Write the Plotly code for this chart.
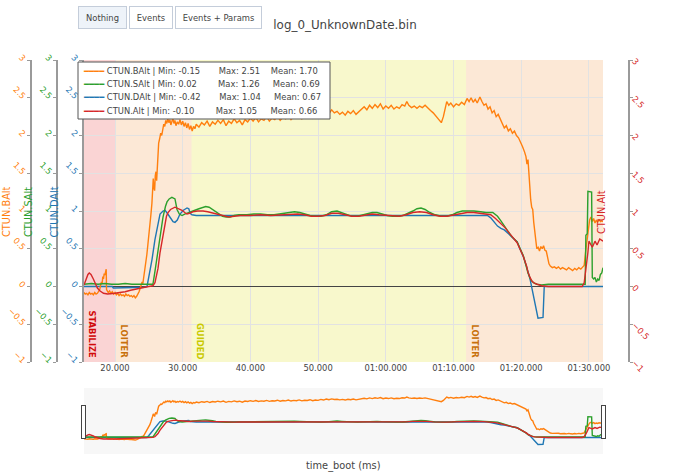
import plotly.graph_objects as go

FONT = "DejaVu Sans"
W, H = 690, 473

# ---------------- data (time_boot in seconds, altitude in m) ----------------
balt_points = [
    (15.42,-0.08),(15.6,-0.10),(15.8,-0.09),(16.0,-0.11),(16.2,-0.08),(16.4,-0.10),(16.6,-0.09),(16.8,-0.11),
    (17.0,-0.08),(17.2,-0.10),(17.4,-0.09),(17.6,-0.06),(17.75,-0.04),(17.9,0.03),(18.0,0.06),(18.1,0.04),
    (18.2,0.13),(18.3,0.10),(18.4,0.17),(18.5,0.15),(18.6,0.21),(18.7,0.23),(18.75,-0.04),(18.85,-0.06),
    (19.0,-0.08),(19.2,-0.06),(19.4,-0.09),(19.6,-0.07),(19.8,-0.10),(20.0,-0.08),(20.2,-0.11),(20.4,-0.09),
    (20.6,-0.12),(20.8,-0.10),(21.0,-0.12),(21.2,-0.11),(21.4,-0.13),(21.6,-0.10),(21.8,-0.12),(22.0,-0.11),
    (22.2,-0.13),(22.4,-0.12),(22.6,-0.14),(22.8,-0.12),(23.0,-0.15),(23.2,-0.13),(23.4,-0.10),(23.55,-0.07),
    (23.7,-0.03),(23.85,0.01),(24.0,0.06),(24.1,0.03),(24.25,0.12),(24.4,0.22),(24.55,0.33),(24.7,0.42),
    (24.85,0.55),(25.0,0.66),(25.15,0.78),(25.3,0.95),(25.45,1.10),(25.55,1.28),(25.65,1.43),(25.75,1.30),
    (25.85,1.27),(25.95,1.47),(26.05,1.52),(26.15,1.40),(26.3,1.72),(26.45,1.90),(26.6,1.96),(26.75,2.03),
    (26.9,2.00),(27.05,2.08),(27.2,2.15),(27.35,2.12),(27.5,2.20),(27.65,2.16),(27.8,2.22),(27.95,2.17),
    (28.1,2.21),(28.25,2.14),(28.4,2.19),(28.55,2.23),(28.7,2.16),(28.85,2.20),(29.0,2.13),(29.2,2.18),
    (29.4,2.15),(29.6,2.21),(29.8,2.14),(30.0,2.19),(30.2,2.12),(30.4,2.17),(30.6,2.10),(30.8,2.16),
    (31.0,2.08),(31.2,2.13),(31.4,2.06),(31.6,2.12),(31.8,2.09),(32.0,2.15),(32.4,2.11),(32.8,2.17),
    (33.2,2.14),(33.6,2.19),(34.0,2.12),(34.4,2.18),(34.8,2.15),(35.2,2.20),(35.6,2.16),(36.0,2.21),
    (36.4,2.13),(36.8,2.19),(37.2,2.16),(37.6,2.22),(38.0,2.17),(38.4,2.20),(38.8,2.14),(39.2,2.21),
    (39.6,2.18),(40.0,2.23),(40.4,2.19),(40.8,2.24),(41.2,2.18),(41.6,2.22),(42.0,2.20),(42.4,2.25),
    (42.8,2.19),(43.2,2.23),(43.6,2.21),(44.0,2.26),(44.4,2.20),(44.8,2.24),(45.2,2.22),(45.6,2.27),
    (46.0,2.21),(46.4,2.25),(46.8,2.23),(47.2,2.28),(47.6,2.22),(48.0,2.26),(48.4,2.24),(48.8,2.29),
    (49.2,2.23),(49.6,2.27),(50.0,2.25),(50.4,2.31),(50.8,2.27),(51.2,2.33),(51.6,2.29),(52.0,2.34),
    (52.4,2.30),(52.8,2.32),(53.2,2.28),(53.6,2.31),(54.0,2.27),(54.4,2.32),(54.8,2.29),(55.2,2.33),
    (55.6,2.28),(56.0,2.31),(56.4,2.35),(56.8,2.38),(57.2,2.34),(57.6,2.40),(58.0,2.36),(58.4,2.41),
    (58.8,2.37),(59.2,2.42),(59.6,2.35),(60.0,2.39),(60.4,2.36),(60.8,2.40),(61.2,2.35),(61.6,2.38),
    (62.0,2.36),(62.4,2.41),(62.8,2.39),(63.1,2.45),(63.4,2.40),(63.8,2.37),(64.2,2.39),(64.6,2.36),
    (65.0,2.39),(65.4,2.37),(65.8,2.40),(66.2,2.36),(66.6,2.33),(67.0,2.30),(67.4,2.26),(67.8,2.22),
    (68.2,2.17),(68.5,2.25),(68.8,2.36),(69.0,2.45),(69.3,2.40),(69.6,2.43),(70.0,2.38),(70.4,2.42),
    (70.8,2.40),(71.2,2.44),(71.6,2.41),(72.0,2.49),(72.3,2.45),(72.6,2.50),(72.9,2.44),(73.2,2.48),
    (73.5,2.43),(73.9,2.51),(74.2,2.45),(74.5,2.40),(74.8,2.42),(75.1,2.35),(75.4,2.38),(75.7,2.30),
    (76.0,2.33),(76.3,2.25),(76.6,2.28),(76.9,2.22),(77.2,2.15),(77.5,2.10),(77.8,2.13),(78.1,2.06),
    (78.4,2.09),(78.7,2.03),(79.0,2.06),(79.3,2.00),(79.6,1.97),(79.9,1.92),(80.2,1.85),(80.5,1.78),
    (80.7,1.72),(80.85,1.62),(81.0,1.68),(81.1,1.55),(81.25,1.30),(81.4,1.15),(81.55,1.05),(81.7,1.02),
    (81.85,0.85),(82.0,0.72),(82.15,0.60),(82.3,0.50),(82.5,0.52),(82.7,0.47),(82.9,0.53),(83.1,0.50),
    (83.3,0.54),(83.5,0.48),(83.7,0.47),(83.9,0.40),(84.1,0.30),(84.3,0.27),(84.6,0.25),(84.9,0.26),
    (85.2,0.24),(85.5,0.26),(85.8,0.23),(86.1,0.25),(86.4,0.24),(86.7,0.22),(87.0,0.25),(87.3,0.23),
    (87.6,0.21),(87.9,0.24),(88.2,0.22),(88.5,0.25),(88.8,0.23),(89.1,0.26),(89.3,0.28),(89.5,0.45),
    (89.7,0.60),(89.9,0.72),(90.1,0.88),(90.3,0.92),(90.5,0.86),(90.7,0.90),(90.9,0.84),(91.1,0.88),
    (91.3,0.85),(91.5,0.89),(91.7,0.86),(91.9,0.87),(92.08,0.86),
]

salt_points = [
    (15.42,0.03),(16.5,0.04),(17.5,0.03),(18.5,0.04),(19.5,0.03),(20.5,0.03),(21.5,0.04),(22.5,0.03),
    (23.5,0.03),(24.5,0.03),(25.6,0.03),(25.9,0.20),(26.35,0.50),(26.7,0.72),(27.09,0.92),(27.45,1.06),
    (27.68,1.12),(28.0,1.16),(28.4,1.18),(28.86,1.16),(29.16,1.02),(29.5,0.96),(29.9,0.94),(30.3,0.96),
    (30.8,0.98),(31.3,1.00),(31.8,1.01),(32.4,1.03),(32.9,1.05),(33.4,1.06),(33.9,1.05),(34.4,1.02),
    (34.9,0.98),(35.4,0.95),(35.9,0.93),(36.4,0.92),(37.0,0.92),(37.6,0.94),(38.3,0.95),(39.5,0.95),
    (40.5,0.96),(41.5,0.96),(42.5,0.95),(43.5,0.95),(44.5,0.96),(45.5,0.98),(46.5,0.99),(47.3,0.98),
    (48.0,0.96),(48.8,0.94),(49.6,0.93),(50.4,0.93),(51.2,0.95),(52.0,0.99),(52.8,1.00),(53.5,0.98),
    (54.3,0.95),(55.0,0.93),(55.8,0.93),(56.6,0.95),(57.3,0.97),(58.0,0.98),(58.7,0.98),(59.4,0.96),
    (60.2,0.94),(61.0,0.93),(61.8,0.93),(62.5,0.94),(63.3,0.97),(64.0,1.00),(64.6,1.03),(65.2,1.04),
    (65.8,1.02),(66.5,0.98),(67.3,0.95),(68.2,0.93),(69.0,0.93),(69.8,0.95),(70.5,0.98),(71.3,1.00),
    (72.0,1.00),(73.0,1.00),(74.0,0.99),(74.8,0.98),(75.8,0.98),(76.5,0.93),(77.0,0.87),(77.5,0.80),
    (78.0,0.73),(78.6,0.66),(79.4,0.59),(79.8,0.50),(80.3,0.41),(80.7,0.28),(81.0,0.18),(81.4,0.09),
    (81.8,0.05),(82.3,0.03),(83.0,0.02),(84.0,0.03),(85.0,0.03),(86.0,0.03),(87.0,0.03),(88.0,0.03),
    (89.0,0.03),(89.45,0.03),(89.55,0.68),(89.75,0.70),(89.85,1.26),(90.4,1.25),(90.5,0.12),(90.7,0.10),
    (90.9,0.12),(91.1,0.06),(91.3,0.10),(91.5,0.08),(91.7,0.16),(91.9,0.18),(92.08,0.25),
]

dalt_points = [
    (15.42,0.0),(19.6,0.0),(19.75,-0.02),(22.0,-0.02),(24.4,-0.01),(24.73,0.0),(25.0,0.12),(25.47,0.36),
    (25.9,0.62),(26.2,0.77),(26.65,0.96),(27.09,1.00),(27.4,1.01),(27.8,0.96),(28.2,0.90),(28.57,0.86),
    (28.86,0.85),(29.2,0.88),(29.6,0.96),(30.1,1.01),(30.64,1.04),(30.9,1.03),(31.1,0.97),(31.37,0.95),
    (32.0,0.94),(35.0,0.94),(40.0,0.95),(45.0,0.94),(50.0,0.94),(55.0,0.95),(60.0,0.94),(65.0,0.95),
    (70.0,0.95),(74.4,0.95),(75.0,0.94),(75.5,0.91),(76.0,0.86),(76.5,0.80),(77.0,0.77),(77.5,0.75),
    (78.0,0.71),(78.7,0.65),(79.4,0.59),(79.8,0.50),(80.3,0.40),(80.8,0.26),(81.3,0.10),(82.48,-0.42),
    (83.22,-0.41),(83.4,0.0),(92.08,0.0),
]

alt_points = [
    (15.42,0.02),(15.7,0.10),(16.0,0.16),(16.2,0.18),(16.45,0.16),(16.8,0.10),(17.1,0.03),(17.4,-0.02),
    (17.8,-0.06),(18.3,-0.09),(18.9,-0.10),(19.5,-0.10),(20.0,-0.09),(20.7,-0.08),(21.5,-0.07),(22.3,-0.05),
    (23.0,-0.04),(23.7,-0.02),(24.4,-0.01),(25.0,0.0),(25.6,0.01),(25.9,0.05),(26.35,0.24),(26.65,0.45),
    (26.94,0.59),(27.2,0.75),(27.39,0.86),(27.6,0.93),(27.83,0.98),(28.2,1.02),(28.86,1.05),(29.3,1.03),
    (29.9,1.01),(30.3,0.98),(30.64,0.96),(31.0,0.97),(31.5,0.99),(32.2,1.00),(33.0,1.00),(33.7,0.99),
    (34.5,0.97),(35.3,0.95),(36.0,0.93),(36.8,0.92),(37.6,0.93),(38.5,0.94),(40.0,0.94),(41.5,0.95),
    (43.0,0.94),(44.5,0.95),(46.0,0.96),(47.0,0.96),(48.0,0.95),(49.0,0.93),(50.0,0.93),(51.0,0.94),
    (52.0,0.97),(53.0,0.97),(54.0,0.95),(55.0,0.93),(56.0,0.93),(57.0,0.95),(58.0,0.96),(59.0,0.95),
    (60.0,0.94),(61.0,0.93),(62.0,0.93),(63.0,0.95),(64.0,0.98),(65.0,0.99),(66.0,0.98),(67.0,0.95),
    (68.0,0.93),(69.0,0.93),(70.0,0.95),(71.0,0.97),(72.0,0.98),(73.0,0.98),(74.4,0.96),(75.5,0.95),
    (76.2,0.90),(76.9,0.84),(77.6,0.78),(78.3,0.70),(79.0,0.63),(79.4,0.58),(79.8,0.50),(80.3,0.40),
    (80.8,0.27),(81.0,0.19),(81.3,0.12),(81.6,0.07),(82.0,0.04),(82.5,0.02),(83.0,0.01),(84.0,0.0),
    (89.0,0.0),(89.3,0.05),(89.6,0.25),(89.85,0.45),(90.0,0.60),(90.3,0.55),(90.5,0.52),(90.9,0.60),
    (91.2,0.55),(91.6,0.63),(92.08,0.60),
]

series_names = ["CTUN.BAlt", "CTUN.SAlt", "CTUN.DAlt", "CTUN.Alt"]
series_colors = ["#ff7f0e", "#2ca02c", "#1f77b4", "#d62728"]
series_points = [balt_points, salt_points, dalt_points, alt_points]
series_axes = ["y2", "y3", "y", "y4"]
stat_min = ["-0.15", "0.02", "-0.42", "-0.10"]
stat_max = ["2.51", "1.26", "1.04", "1.05"]
stat_mean = ["1.70", "0.69", "0.67", "0.66"]

mode_names = ["STABILIZE", "LOITER", "GUIDED", "LOITER"]
mode_start_s = [15.42, 20.0, 31.3, 71.85]
log_end_s = 92.08
mode_fill = {"STABILIZE": "rgba(232,40,40,0.20)", "LOITER": "rgba(236,130,30,0.18)",
             "GUIDED": "rgba(226,226,40,0.24)"}
mode_text = {"STABILIZE": "#d10a0a", "LOITER": "#c8700a", "GUIDED": "#c9c900"}

x_tick_ms = [20000, 30000, 40000, 50000, 60000, 70000, 80000, 90000]
x_tick_labels = ["20.000", "30.000", "40.000", "50.000", "01:00.000", "01:10.000", "01:20.000", "01:30.000"]
y_tick_vals = [-1, -0.5, 0, 0.5, 1, 1.5, 2, 2.5, 3]
x_title = "time_boot (ms)"

buttons = ["Nothing", "Events", "Events + Params"]
title_text = "log_0_UnknownDate.bin"

# ---------------- layout geometry (pixels of the 690x473 page) ----------------
PLOT_L, PLOT_R, PLOT_T, PLOT_B = 84, 603, 60, 362
def px(x):
    return x / W
def dy(y):  # pixel row -> y-domain fraction of the plot area
    return (PLOT_B - y) / (PLOT_B - PLOT_T)

fig = go.Figure()
for name, color, pts, ax in zip(series_names, series_colors, series_points, series_axes):
    fig.add_trace(go.Scatter(
        x=[t * 1000 for t, _ in pts], y=[v for _, v in pts], name=name, yaxis=ax,
        mode="lines", line=dict(color=color, width=1.4), showlegend=False,
    ))

common_y = dict(range=[-1, 3], tickvals=y_tick_vals, tickangle=45, showline=True,
                linecolor="#9a9a9a", linewidth=1.5, ticks="outside", ticklen=3,
                tickcolor="#9a9a9a", automargin=False, fixedrange=True)

fig.update_layout(
    width=W, height=H,
    margin=dict(l=0, r=0, t=PLOT_T, b=0, autoexpand=False),
    paper_bgcolor="white", plot_bgcolor="white",
    font=dict(family=FONT, size=8.4, color="#444"),
    showlegend=False,
    title=dict(text=title_text, font=dict(size=11.9, color="#444"), x=0.5, xanchor="center",
               y=1 - 25 / H, yref="container", yanchor="middle"),
    xaxis=dict(domain=[px(PLOT_L), px(PLOT_R)], range=[mode_start_s[0] * 1000, log_end_s * 1000],
               tickvals=x_tick_ms, ticktext=x_tick_labels, showgrid=True, gridcolor="#e2e2e2",
               zeroline=False, ticks="", tickfont=dict(size=8.4, color="#444"),
               rangeslider=dict(visible=True, thickness=0.16, bgcolor="#f7f7f7", borderwidth=0)),
    yaxis=dict(**common_y, domain=[(H - PLOT_B) / (H - PLOT_T), 1], anchor="x",
               tickfont=dict(size=8.4, color=series_colors[2]),
               showgrid=True, gridcolor="#e2e2e2", zeroline=True, zerolinecolor="#444", zerolinewidth=1),
    yaxis2=dict(**common_y, anchor="free", overlaying="y", side="left", position=px(30.5),
                tickfont=dict(size=8.4, color=series_colors[0]), showgrid=False, zeroline=False),
    yaxis3=dict(**common_y, anchor="free", overlaying="y", side="left", position=px(57),
                tickfont=dict(size=8.4, color=series_colors[1]), showgrid=False, zeroline=False),
    yaxis4=dict(**common_y, anchor="free", overlaying="y", side="right", position=px(629),
                tickfont=dict(size=8.4, color=series_colors[3]), showgrid=False, zeroline=False),
)

# flight-mode shading and labels
shapes = []
annotations = []
mode_ends = mode_start_s[1:] + [log_end_s]
for name, t0, t1 in zip(mode_names, mode_start_s, mode_ends):
    shapes.append(dict(type="rect", xref="x", yref="y domain", x0=t0 * 1000, x1=t1 * 1000, y0=0, y1=1,
                       fillcolor=mode_fill[name], line=dict(width=0), layer="below"))
    annotations.append(dict(text=f"<b>{name}</b>", x=t0 * 1000, xref="x", y=0.005, yref="y domain",
                            xanchor="left", yanchor="bottom", textangle=90, showarrow=False, xshift=1,
                            font=dict(size=8.4, color=mode_text[name])))

# legend box with statistics
shapes.append(dict(type="rect", xref="paper", yref="paper",
                   x0=px(78), x1=px(330),
                   y0=1 - (119 - PLOT_T) / (H - PLOT_T), y1=1 - (62 - PLOT_T) / (H - PLOT_T),
                   fillcolor="white", line=dict(color="#555", width=1), layer="above"))
NB = "\u00a0"
gap1 = [7, 8, 7, 8]
gap2 = [4, 5, 5, 5]
row_y = [70.7, 84.0, 97.3, 110.5]
for i, name in enumerate(series_names):
    txt = (f"<span style='color:{series_colors[i]}'>━━━━</span>{NB}{name} | Min: {stat_min[i]}"
           f"{NB * gap1[i]}Max: {stat_max[i]}{NB * gap2[i]}Mean: {stat_mean[i]}")
    annotations.append(dict(text=txt, x=px(81), xref="paper", y=dy(row_y[i]), yref="y domain",
                            xanchor="left", yanchor="middle", showarrow=False, align="left",
                            font=dict(size=8.4, color="#444")))

# y-axis titles (placed beside each axis as in the reference)
title_x = [6, 28, 53.5, 601]
for name, color, tx in zip(series_names, series_colors, title_x):
    annotations.append(dict(text=name, x=px(tx), xref="paper", y=dy(212), yref="y domain",
                            xanchor="center", yanchor="middle",
                            textangle=-90, showarrow=False, font=dict(size=9.8, color=color)))

# x-axis title, below the range slider
annotations.append(dict(text=x_title, x=px((PLOT_L + PLOT_R) / 2), xref="paper", y=dy(466), yref="y domain",
                        xanchor="center", yanchor="middle", showarrow=False,
                        font=dict(size=9.8, color="#444")))

# top buttons
btn_boxes = [(78, 127), (129, 173), (175, 262)]
for label, (x0, x1) in zip(buttons, btn_boxes):
    annotations.append(dict(text=label, x=px((x0 + x1) / 2), xref="paper", y=dy(17.5), yref="y domain",
                            xanchor="center", yanchor="middle", showarrow=False,
                            width=x1 - x0 - 2, height=21, borderpad=0, borderwidth=1,
                            bordercolor="#c4cdda", bgcolor="#eef3f9" if label == "Nothing" else "white",
                            font=dict(size=8.4, color="#444")))

fig.update_layout(shapes=shapes, annotations=annotations)
fig.write_html("out.html", config={"displayModeBar": False},
               post_script="document.body.style.margin='0';")
